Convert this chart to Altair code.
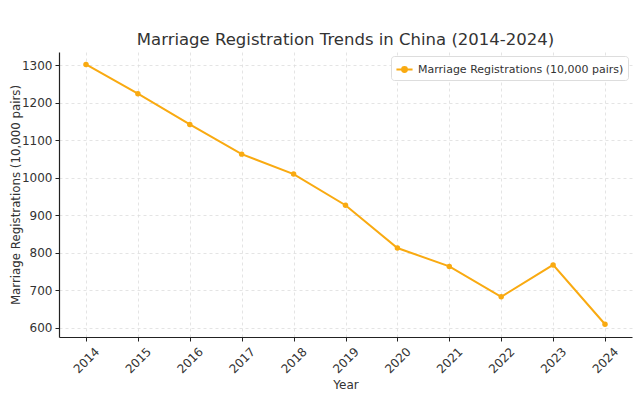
import altair as alt
import pandas as pd

years = [2014, 2015, 2016, 2017, 2018, 2019, 2020, 2021, 2022, 2023, 2024]
registrations = [1302, 1224, 1142, 1063, 1010, 927, 813, 764, 683, 768, 610]
series_name = "Marriage Registrations (10,000 pairs)"

df = pd.DataFrame({"Year": years, "Value": registrations, "Series": [series_name] * len(years)})

color = "#F9AA11"
legend_symbol = "M-1,0L1,0M0.3,0A0.3,0.3 0 1,1 -0.3,0A0.3,0.3 0 1,1 0.3,0Z"

chart = alt.Chart(df).mark_line(
    strokeWidth=2,
    point=alt.OverlayMarkDef(filled=True, size=30, color=color, opacity=1),
).encode(
    x=alt.X("Year:Q",
            scale=alt.Scale(domain=[2013.48, 2024.52], nice=False, zero=False),
            axis=alt.Axis(values=years, format="d", labelAngle=-45, title="Year",
                          labelAlign="center", labelBaseline="middle", labelPadding=19,
                          titlePadding=4)),
    y=alt.Y("Value:Q",
            scale=alt.Scale(domain=[576, 1335], nice=False, zero=False),
            axis=alt.Axis(values=[600, 700, 800, 900, 1000, 1100, 1200, 1300], format="d",
                          labelPadding=3, titleX=-44, titleBaseline="middle",
                          titleFontSize=11.8,
                          title="Marriage Registrations (10,000 pairs)")),
    color=alt.Color("Series:N", scale=alt.Scale(domain=[series_name], range=[color]),
                    legend=alt.Legend(title=None, orient="top-right", symbolType=legend_symbol,
                                      symbolSize=260, symbolStrokeWidth=2, symbolFillColor=color,
                                      labelFontSize=11, labelColor="#333333", labelLimit=0,
                                      fillColor="white", strokeColor="#dddddd",
                                      padding=4, offset=4, cornerRadius=3)),
).properties(
    width=573,
    height=285,
    title=alt.Title("Marriage Registration Trends in China (2014-2024)", fontSize=16.5,
                    fontWeight="normal", color="#333333", anchor="middle", offset=4),
    autosize=alt.AutoSizeParams(type="none"),
    padding={"left": 51, "top": 44, "right": 3, "bottom": 58},
).configure(
    font="DejaVu Sans",
).configure_view(
    stroke=None,
).configure_axis(
    grid=True,
    gridColor="#dddddd",
    gridDash=[3, 3],
    gridWidth=0.8,
    domainColor="#222222",
    domainWidth=1.2,
    tickColor="#222222",
    tickSize=4,
    labelFontSize=12,
    labelColor="#333333",
    titleFontSize=12,
    titleFontWeight="normal",
    titleColor="#333333",
)

chart.save("out.html", embed_options={"renderer": "svg", "actions": False})
